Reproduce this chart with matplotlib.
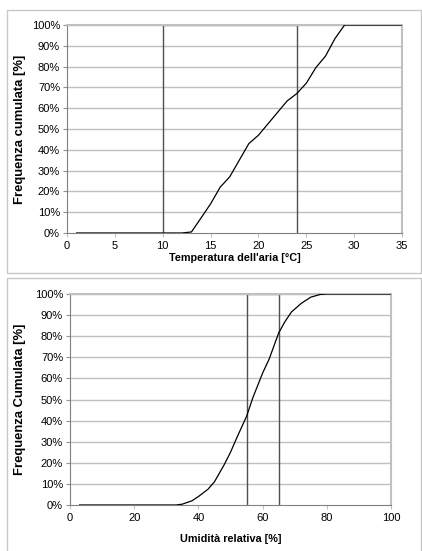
import matplotlib.pyplot as plt
from matplotlib.patches import Rectangle
from matplotlib.ticker import FuncFormatter

# Temperatura dell'aria [°C] - frequenza cumulata [%]
temp_x = [1, 2, 3, 4, 5, 6, 7, 8, 9, 10, 11, 12, 13, 14, 15, 16, 17, 18,
          19, 20, 21, 22, 23, 24, 25, 26, 27, 28, 29, 30, 31, 32, 33, 34, 35]
temp_y = [0, 0, 0, 0, 0, 0, 0, 0, 0, 0, 0, 0, 0.5, 7.2, 14, 22, 27, 35,
          43, 47, 52.5, 58, 63.5, 67, 72, 79.5, 85, 93.5, 100, 100, 100, 100, 100, 100, 100]
temp_band = [10, 24]

# Umidità relativa [%] - frequenza cumulata [%]
umid_x = [3, 10, 20, 30, 33, 35, 38, 40, 43, 45, 48, 50, 52, 55, 57, 60,
          62, 65, 67, 69, 72, 75, 78, 80, 90, 100]
umid_y = [0, 0, 0, 0, 0, 0.4, 2, 4, 7.5, 11, 19, 25, 32, 42, 51, 62.5,
          69, 81.5, 87, 91.5, 95.5, 98.5, 99.8, 100, 100, 100]
umid_band = [55, 65]

plt.rcParams['font.family'] = ['Liberation Sans', 'DejaVu Sans']

W, H = 422, 551
fig = plt.figure(figsize=(W / 100, H / 100), dpi=100)
fig.patch.set_facecolor('white')

# riquadri esterni dei due grafici
fig.patches.append(Rectangle((7 / W, 1 - 273 / H), 414 / W, 263 / H, transform=fig.transFigure,
                             fill=False, edgecolor='#c8c8c8', lw=1))
fig.patches.append(Rectangle((7 / W, -0.01), 414 / W, 1 - 278 / H + 0.01, transform=fig.transFigure,
                             fill=False, edgecolor='#c8c8c8', lw=1))


def make_panel(rect, x, y, band, xmax, xstep, xlabel, ylabel, xlabelpad, ylabelpad):
    ax = fig.add_axes(rect)
    for yy in range(10, 101, 10):
        ax.axhline(yy, color='#c0c0c0', lw=1, zorder=1)
    for b in band:
        ax.plot([b, b], [0, 100], color='#505050', lw=1, zorder=2)
    ax.plot(band, [100, 100], color='#909090', lw=1, zorder=2)
    ax.plot(x, y, color='black', lw=0.9, zorder=3)
    ax.set_xlim(0, xmax)
    ax.set_ylim(0, 100)
    ax.set_xticks(range(0, xmax + 1, xstep))
    ax.set_yticks(range(0, 101, 10))
    ax.yaxis.set_major_formatter(FuncFormatter(lambda v, p: f"{int(v)}%"))
    ax.tick_params(axis='y', length=3, width=0.8, color='#909090', labelsize=8, pad=2)
    ax.tick_params(axis='x', length=3, width=0.8, color='#c0c0c0', labelsize=8, pad=3)
    ax.spines['left'].set_color('#808080')
    ax.spines['bottom'].set_color('#808080')
    ax.spines['top'].set_color('#c0c0c0')
    ax.spines['right'].set_color('#c0c0c0')
    ax.spines['top'].set_linewidth(1.5)
    ax.spines['right'].set_linewidth(1.5)
    ax.set_xlabel(xlabel, fontsize=7.8, fontweight='bold', labelpad=xlabelpad)
    ax.set_ylabel(ylabel, fontsize=9.4, fontweight='bold', labelpad=ylabelpad)
    return ax


make_panel([67 / W, 318 / H, 335 / W, 208 / H], temp_x, temp_y, temp_band, 35, 5,
           "Temperatura dell'aria [°C]", "Frequenza cumulata [%]", 1, 4)
make_panel([70 / W, 46 / H, 321 / W, 211 / H], umid_x, umid_y, umid_band, 100, 20,
           "Umidità relativa [%]", "Frequenza Cumulata [%]", 8, 6)

fig.savefig('out.png', dpi=100)
